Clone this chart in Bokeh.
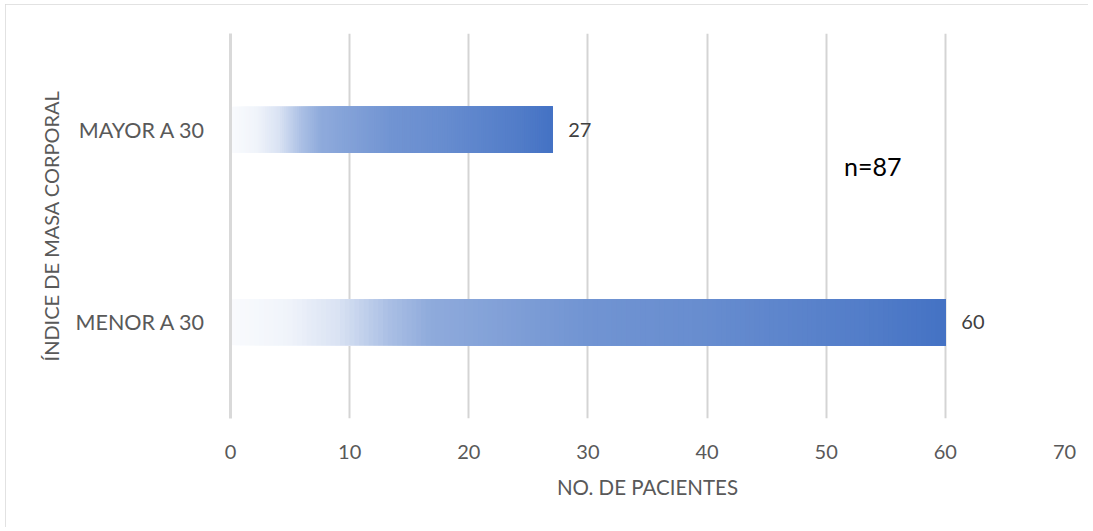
from bokeh.plotting import figure
from bokeh.models import (FactorRange, Range1d, Label, ColumnDataSource,
                          FixedTicker)
from bokeh.embed import file_html
from bokeh.resources import INLINE
from bokeh.core.properties import value

# --- data -------------------------------------------------------------
categories = ["MENOR A 30", "MAYOR A 30"]   # bottom to top
patients = [60, 27]
total_label = "n=87"
x_ticks = [0, 10, 20, 30, 40, 50, 60, 70]

# --- style ------------------------------------------------------------
FONT = "Lato"
LABEL_GRAY = "#595959"
BAR_BLUE = (0x44, 0x72, 0xC4)
# opacity of the blue along each bar (fraction of bar length -> opacity)
RAMP_POS = [0.0, 0.08, 0.15, 0.22, 0.28, 0.50, 0.66, 0.90, 1.0]
RAMP_ALPHA = [0.03, 0.08, 0.20, 0.45, 0.60, 0.76, 0.81, 0.93, 1.0]
SLICES = 150


def ramp_color(t):
    for i in range(len(RAMP_POS) - 1):
        if t <= RAMP_POS[i + 1]:
            f = (t - RAMP_POS[i]) / (RAMP_POS[i + 1] - RAMP_POS[i])
            a = RAMP_ALPHA[i] + f * (RAMP_ALPHA[i + 1] - RAMP_ALPHA[i])
            break
    else:
        a = RAMP_ALPHA[-1]
    r, g, b = (round(255 + a * (c - 255)) for c in BAR_BLUE)
    return "#%02x%02x%02x" % (r, g, b)


# gradient bars: each bar is a stack of segments that all end at the value,
# drawn from left to right so later (darker) segments cover earlier ones
seg = dict(y=[], left=[], right=[], color=[])
for cat, v in zip(categories, patients):
    for i in range(SLICES):
        seg["y"].append(cat)
        seg["left"].append(v * i / SLICES)
        seg["right"].append(v)
        seg["color"].append(ramp_color((i + 0.5) / SLICES))

p = figure(width=1083, height=523,
           y_range=FactorRange(*categories), x_range=Range1d(0, 70),
           output_backend="svg", toolbar_location=None,
           min_border_left=225, min_border_right=24,
           min_border_top=29, min_border_bottom=109)
p.margin = (4, 0, 0, 5)
p.styles = {"outline": "1px solid #d9d9d9", "outline-offset": "-1px"}
p.outline_line_color = None
p.background_fill_color = "white"
p.border_fill_color = "white"

p.hbar(y="y", left="left", right="right", height=0.24,
       fill_color="color", line_color=None,
       source=ColumnDataSource(seg))

# value labels
p.text(x=patients, y=categories, text=[str(v) for v in patients],
       x_offset=16, text_baseline="middle", text_align="left",
       text_font=value(FONT), text_font_size="20px", text_color="#404040")

# x axis
xa = p.xaxis[0]
xa.ticker = FixedTicker(ticks=x_ticks)
xa.axis_line_color = None
xa.major_tick_line_color = None
xa.minor_tick_line_color = None
xa.major_label_text_font = FONT
xa.major_label_text_font_size = "20px"
xa.major_label_text_color = LABEL_GRAY
xa.major_label_standoff = 20
xa.axis_label = "NO. DE PACIENTES"
xa.axis_label_text_font = FONT
xa.axis_label_text_font_size = "20.5px"
xa.axis_label_text_font_style = "normal"
xa.axis_label_text_color = LABEL_GRAY
xa.axis_label_standoff = 13

# y axis
ya = p.yaxis[0]
ya.axis_line_color = "#d9d9d9"
ya.axis_line_width = 3
ya.major_tick_line_color = None
ya.minor_tick_line_color = None
ya.major_label_text_font = FONT
ya.major_label_text_font_size = "21.5px"
ya.major_label_text_color = LABEL_GRAY
ya.major_label_standoff = 19
ya.axis_label = "ÍNDICE DE MASA CORPORAL"
ya.axis_label_text_font = FONT
ya.axis_label_text_font_size = "20px"
ya.axis_label_text_font_style = "normal"
ya.axis_label_text_color = LABEL_GRAY
ya.axis_label_standoff = 10

p.xgrid.grid_line_color = "#d4d4d4"
p.xgrid.grid_line_width = 2
p.ygrid.grid_line_color = None

# sample size note
p.add_layout(Label(x=51.5, y=253, y_units="screen", text=total_label,
                   text_baseline="middle", text_font=FONT,
                   text_font_size="25px", text_color="black"))

open("out.html", "w").write(file_html(p, INLINE))
